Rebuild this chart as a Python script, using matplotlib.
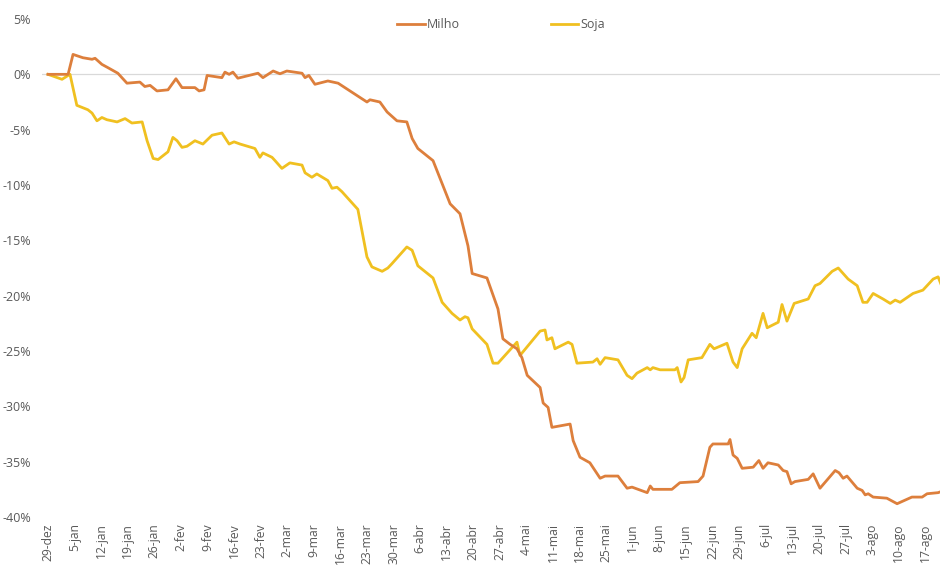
import matplotlib.pyplot as plt
import numpy as np

# days counted from 29-dez, value = % change since then
milho_dias = [0, 5.3, 6.6, 9.2, 11.6, 12.4, 14.2, 15.8, 18.4, 20.8, 24.2, 25.5, 26.9, 28.7,
              31.6, 33.7, 35.3, 38.7, 39.8, 41.1, 41.9, 45.8, 46.6, 47.7, 48.7, 50.0, 55.3,
              56.6, 59.3, 61.1, 62.9, 66.9, 67.7, 68.7, 70.3, 73.7, 76.4, 82.2, 84.0, 84.8,
              87.4, 89.3, 91.9, 94.5, 95.9, 97.4, 101.4, 105.9, 108.5, 110.6, 111.7, 115.6,
              118.5, 119.8, 121.7, 123.5, 124.8, 126.2, 129.6, 130.4, 131.7, 132.7, 137.5,
              138.3, 140.1, 142.7, 145.4, 146.7, 150.1, 152.5, 153.8, 157.8, 158.6, 159.3,
              164.3, 166.4, 171.2, 172.5, 174.3, 175.1, 179.1, 179.6, 180.4, 181.5, 182.8,
              185.7, 187.2, 188.3, 189.6, 192.3, 193.6, 194.6, 195.7, 196.7, 200.2, 201.5,
              203.3, 207.3, 208.3, 209.4, 210.4, 213.1, 214.4, 215.2, 216.0, 217.3, 220.9,
              223.6, 227.5, 230.2, 231.5, 234.4, 235.2]
milho = [0, 0, 1.8, 1.5, 1.36, 1.45, 0.9, 0.6, 0.1, -0.8, -0.7, -1.1, -1.0, -1.5,
         -1.4, -0.4, -1.2, -1.2, -1.5, -1.4, -0.1, -0.3, 0.2, 0.0, 0.2, -0.35, 0.1,
         -0.3, 0.3, 0.05, 0.3, 0.1, -0.3, -0.1, -0.9, -0.6, -0.8, -2.1, -2.5, -2.3,
         -2.5, -3.4, -4.2, -4.3, -5.8, -6.7, -7.8, -11.7, -12.6, -15.5, -18.0, -18.4,
         -21.2, -23.9, -24.4, -24.8, -25.6, -27.2, -28.3, -29.7, -30.1, -31.9, -31.6,
         -33.1, -34.6, -35.1, -36.5, -36.3, -36.3, -37.4, -37.3, -37.8, -37.2, -37.5,
         -37.5, -36.9, -36.8, -36.3, -33.7, -33.4, -33.4, -33.0, -34.4, -34.7, -35.6,
         -35.5, -34.9, -35.6, -35.1, -35.3, -35.8, -35.9, -37.0, -36.8, -36.6, -36.1,
         -37.4, -35.8, -36.0, -36.5, -36.3, -37.4, -37.6, -38.0, -37.9, -38.2, -38.3,
         -38.8, -38.2, -38.2, -37.9, -37.8, -37.7]

soja_dias = [0, 3.7, 5.3, 5.8, 7.6, 10.5, 11.6, 12.9, 14.2, 15.5, 18.2, 20.3, 22.1, 24.8,
             26.1, 27.7, 29.0, 31.6, 32.9, 34.0, 35.3, 36.6, 38.7, 40.8, 43.2, 45.8, 47.7,
             49.0, 50.6, 54.5, 55.8, 56.6, 59.0, 59.8, 61.6, 63.7, 66.9, 67.7, 69.5, 70.8,
             73.7, 74.8, 76.1, 77.4, 81.6, 84.0, 85.3, 88.0, 89.5, 90.6, 94.5, 95.9, 97.4,
             101.4, 103.8, 106.4, 108.5, 109.8, 110.6, 111.7, 115.6, 117.2, 118.5, 123.5,
             124.3, 129.6, 130.9, 131.4, 132.7, 133.5, 137.0, 138.0, 139.3, 143.5, 144.6,
             145.4, 146.7, 150.1, 152.5, 153.8, 155.1, 157.8, 158.6, 159.3, 161.2, 165.1,
             165.7, 166.7, 167.5, 168.6, 172.2, 174.3, 175.4, 178.8, 180.4, 181.5, 182.8,
             185.4, 186.5, 188.3, 189.4, 192.3, 193.3, 194.6, 196.5, 200.2, 202.0, 203.3,
             206.5, 208.1, 210.7, 213.1, 214.6, 215.7, 217.3, 219.9, 221.8, 223.1, 224.4,
             227.8, 230.4, 233.1, 234.4, 235.2]
soja = [0, -0.45, -0.1, 0.0, -2.8, -3.2, -3.5, -4.2, -3.9, -4.1, -4.3, -4.0, -4.4, -4.3,
        -6.0, -7.6, -7.7, -7.0, -5.7, -6.0, -6.6, -6.5, -6.0, -6.3, -5.5, -5.3, -6.3,
        -6.1, -6.3, -6.7, -7.5, -7.1, -7.5, -7.8, -8.5, -8.0, -8.2, -8.9, -9.3, -9.0,
        -9.6, -10.3, -10.2, -10.6, -12.2, -16.5, -17.4, -17.8, -17.5, -17.1, -15.6, -15.9, -17.3,
        -18.4, -20.6, -21.6, -22.2, -21.9, -22.0, -23.0, -24.4, -26.1, -26.1, -24.2,
        -25.4, -23.2, -23.1, -24.0, -23.8, -24.8, -24.2, -24.4, -26.1, -26.0, -25.7,
        -26.2, -25.6, -25.8, -27.2, -27.5, -27.0, -26.5, -26.7, -26.5, -26.7, -26.7,
        -26.5, -27.8, -27.4, -25.8, -25.6, -24.4, -24.8, -24.3, -26.0, -26.5, -24.8,
        -23.4, -23.8, -21.6, -22.9, -22.4, -20.8, -22.3, -20.7, -20.3, -19.1, -18.9,
        -17.8, -17.5, -18.5, -19.1, -20.6, -20.6, -19.8, -20.3, -20.7, -20.4, -20.6,
        -19.8, -19.5, -18.5, -18.3, -19.0]

semanas = ['29-dez', '5-jan', '12-jan', '19-jan', '26-jan', '2-fev', '9-fev', '16-fev',
           '23-fev', '2-mar', '9-mar', '16-mar', '23-mar', '30-mar', '6-abr', '13-abr',
           '20-abr', '27-abr', '4-mai', '11-mai', '18-mai', '25-mai', '1-jun', '8-jun',
           '15-jun', '22-jun', '29-jun', '6-jul', '13-jul', '20-jul', '27-jul', '3-ago',
           '10-ago', '17-ago']

plt.rcParams['font.family'] = ['Open Sans', 'DejaVu Sans']

fig = plt.figure(figsize=(9.4, 5.65), dpi=100)
ax = fig.add_axes([41.9 / 940, 48 / 565, 898.1 / 940, 498 / 565])

ax.axhline(0, color='#d9d9d9', lw=0.9, zorder=1)
ax.plot(milho_dias, milho, color='#DD7F3C', lw=2.0, label='Milho', zorder=3)
ax.plot(soja_dias, soja, color='#F0C020', lw=2.0, label='Soja', zorder=2)

ax.set_xlim(-1.6, 234.9)
ax.set_ylim(-40, 5)
ax.set_xticks(np.arange(len(semanas)) * 7)
ax.set_xticklabels(semanas, rotation=90, va='top', ha='center')
ax.set_yticks(np.arange(-40, 6, 5))
ax.set_yticklabels(['{:.0f}%'.format(v) for v in np.arange(-40, 6, 5)])
ax.tick_params(axis='both', length=0, labelsize=9, labelcolor='#595959')
ax.tick_params(axis='x', labelsize=8.7, pad=4.5)
ax.tick_params(axis='y', pad=8)
for s in ax.spines.values():
    s.set_visible(False)

fig.legend(loc='center', bbox_to_anchor=(0.533, 0.956), ncol=2, frameon=False,
           fontsize=9, handlelength=2.2, handletextpad=0.15, columnspacing=7.3,
           labelcolor='#595959')

fig.savefig('out.png', dpi=100)
